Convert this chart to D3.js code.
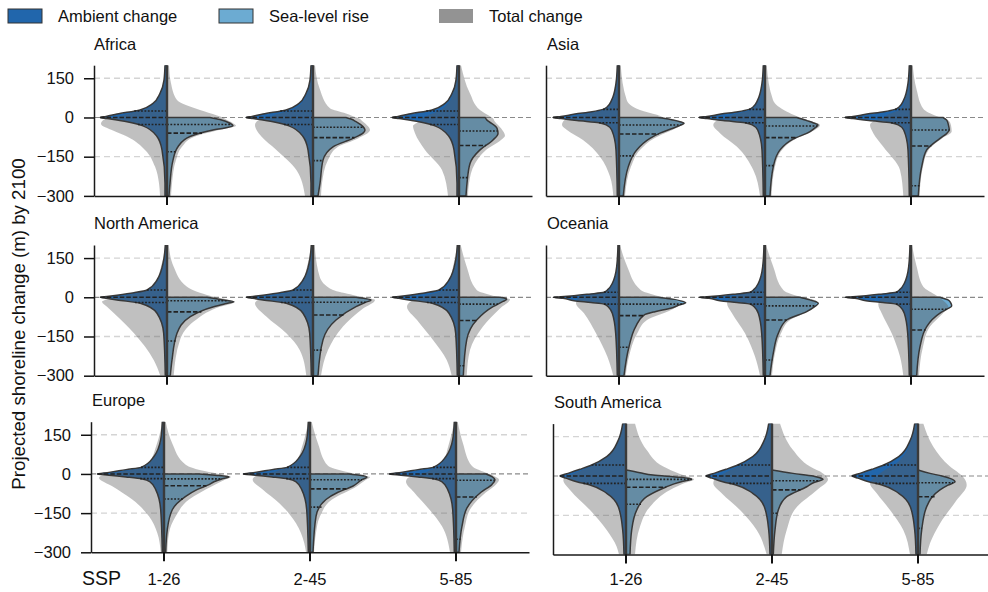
<!DOCTYPE html>
<html><head><meta charset="utf-8">
<script src="https://cdn.jsdelivr.net/npm/d3@7"></script>
<style>body{margin:0;background:#fff;} svg{display:block;font-family:"Liberation Sans",Arial,Helvetica,sans-serif;}</style>
</head><body><svg id="c" width="988" height="592"></svg>
<script>
// ---------------- DATA ----------------
const regions = ["Africa","Asia","North America","Oceania","Europe","South America"];
const ssps = ["1-26","2-45","5-85"];
const yTicks = [150, 0, -150, -300];
const legendLabels = ["Ambient change","Sea-level rise","Total change"];
// profiles: [shoreline change (m), relative half-width of density]
// Ambient change (left half), same for the three SSPs within a region
const africaAmbient = [[200,2],[143,3],[92,7],[54,14],[29,27],[13,50],[4,61],[0,67],[-4,60],[-16,40],[-32,24],[-73,10],[-124,5],[-252,2],[-300,2]];
const asiaAmbient = [[200,1.7],[131,3],[67,7.3],[40,12],[31,16],[22,27],[13,44],[4,58],[0,66],[-4,58],[-12,42],[-20,20],[-30,12],[-48,7.3],[-124,3],[-300,1.7]];
const northAmericaAmbient = [[200,1.7],[143,3.3],[66,10],[28,20],[17.6,33],[8,50],[3,60],[0,66.7],[-4,60],[-10,50],[-23,26.7],[-61,10],[-138,3.3],[-300,1.7]];
const oceaniaAmbient = [[200,1],[117,2.3],[53,6.7],[30,11],[19,15],[12,30],[6,45],[2,58],[0,65.7],[-4,56],[-13,45],[-20,28],[-26,15],[-40,10],[-61,6.7],[-138,3.3],[-300,1.7]];
const europeAmbient = [[200,1.7],[131,3.3],[67,10],[25,23],[16.5,38],[6,55],[0,66.7],[-5,55],[-11.5,38],[-19,21.7],[-30,14],[-60,8.3],[-137,3.3],[-300,1.7]];
const southAmericaAmbient = [[200,3.3],[137,7.7],[74,19.3],[42,34.3],[25.6,46],[10,58],[0,66],[-8,60],[-22,49.3],[-34,36],[-66,19.3],[-117,7.7],[-206,3.3],[-300,2]];
// ambient quartiles [Q3, median, Q1]
const africaAmbientQ = [25,0,-27];
const asiaAmbientQ = [31,0,-20];
const northAmericaAmbientQ = [28,0,-20];
const oceaniaAmbientQ = [19,0,-26];
const europeAmbientQ = [25,0,-18];
const southAmericaAmbientQ = [42,0,-28];

// Sea-level rise (right half), one per SSP
const africaSLR = [
 [[0,43],[-8,53],[-22,63],[-32,66],[-40,58],[-48,46],[-73,23],[-112,11],[-163,6],[-252,3],[-300,2]],
 [[0,33],[-6,38],[-16,43],[-35,50],[-48,52],[-60,50],[-80,40],[-112,20],[-163,10],[-252,7],[-300,5]],
 [[0,26],[-10,28],[-16,30],[-41,38],[-61,39],[-86,34],[-124,21],[-176,11],[-252,8],[-300,7]]];
const asiaSLR = [
 [[0,38],[-4,46],[-9.6,54],[-16,61],[-22,65],[-30,61],[-41,54],[-60,41],[-80,31],[-124,17.7],[-188,9.3],[-300,4.3]],
 [[0,31.7],[-6,37],[-12,41.7],[-20,48],[-29,53],[-40,50],[-54,45],[-83,28],[-124,15],[-188,8.3],[-300,5]],
 [[0,32],[-10,35.7],[-30,37.5],[-48,38.3],[-60,36],[-80,29],[-124,15.7],[-188,10.7],[-300,7.3]]];
const northAmericaSLR = [
 [[0,40],[-5,48],[-10,56.7],[-17,66.7],[-25,58],[-36,46.7],[-74,23.3],[-138,10],[-240,5],[-300,3.3]],
 [[0,43],[-5,52],[-10,58],[-20,52],[-36,43],[-87,23],[-163,10],[-300,5]],
 [[0,41],[-4,46],[-8,47.7],[-16,44],[-36,34],[-87,17.7],[-163,7.7],[-300,4.3]]];
const oceaniaSLR = [
 [[0,38],[-4,47],[-8,55],[-14,62],[-21,66.7],[-30,60],[-42,51.7],[-55,36],[-68,25],[-112,16.7],[-189,10],[-300,5]],
 [[0,35],[-5,40],[-10,45],[-17,51],[-23,53.3],[-35,50],[-55,41.7],[-87,21.7],[-138,13.3],[-214,8.3],[-300,5]],
 [[0,29],[-5,33],[-10,37],[-20,39.5],[-33,40.7],[-45,36],[-61,29],[-112,15.7],[-189,9],[-300,5.7]]];
const europeSLR = [
 [[0,35],[-3,45],[-6.4,55],[-11.5,65],[-20,57],[-30,50],[-41,45],[-60,33],[-86,21.7],[-137,8.3],[-213,3.3],[-300,1.7]],
 [[0,39],[-5,50],[-12,57],[-22,52],[-47,42.7],[-70,28],[-98,16],[-162,6],[-300,3]],
 [[0,30],[-10,36],[-22,39],[-40,36],[-70,25],[-130,11],[-200,6],[-300,3]]];
const southAmericaSLR = [
 [[23,0],[12.6,14],[3.8,27],[-5,54],[-12.7,65.7],[-20,57],[-30,48],[-41,40.7],[-79,20.7],[-130,10.7],[-206,5.7],[-300,4]],
 [[23,0],[10,21],[0,41],[-6,47],[-12.7,51],[-25,42],[-41,34.7],[-79,14.7],[-130,6.3],[-206,3],[-300,1.3]],
 [[23,0],[10,12],[0,24],[-9,32],[-22,37],[-35,30],[-53,22],[-117,8.7],[-206,3.7],[-300,2]]];
// SLR quartiles [Q3, median, Q1]
const africaSLRQ = [[-27,-60,-131],[-37.6,-77,-165],[-52,-107,-230]];
const asiaSLRQ = [[-29,-63,-147],[-32.5,-77,-184],[-48,-109,-261]];
const northAmericaSLRQ = [[-13,-56,-167],[-19,-68,-202],[-26,-89,-262]];
const oceaniaSLRQ = [[-26,-70,-191],[-33,-87,-240],[-46,-125,-310]];
const europeSLRQ = [[-19,-45,-96],[-22,-57,-127],[-24,-88,-250]];
const southAmericaSLRQ = [[-12.7,-43,-108],[-18,-53,-142],[-25.6,-79,-200]];

// Total change, left and right halves
const africaTotalL = [
 [[200,2],[131,3.5],[67,10],[29,23],[13,40],[4,48],[0,55],[-11,64],[-25,66],[-50,54],[-73,40],[-124,22],[-188,12],[-252,8],[-300,7]],
 [[200,2],[131,3.5],[67,9],[29,21],[13,36],[4,42],[0,45],[-12,55],[-29,58],[-73,51.6],[-124,36.6],[-201,16.6],[-300,8]],
 [[200,2],[92,6],[29,18],[13,28],[4,33],[0,35],[-15,40],[-33,46],[-60,44],[-124,34],[-201,17],[-300,11]]];
const africaTotalR = [
 [[200,2],[131,4],[67,10],[29,33],[8,50],[0,56],[-10,60],[-22,66],[-32,69],[-48,52],[-73,28],[-112,15],[-163,9],[-252,5],[-300,4]],
 [[200,2],[110,6.7],[35,17],[15,33],[5,40],[0,44],[-16,50],[-48,57],[-80,45],[-112,25],[-163,15],[-252,9],[-300,8]],
 [[200,2],[92,11],[29,21],[5,31],[0,33],[-16,36],[-41,42],[-70,46],[-86,42],[-124,27],[-176,16],[-252,10],[-300,9]]];
const asiaTotalL = [
 [[200,1.7],[67,7],[31,14],[22,22],[13,34],[4,44],[0,48],[-12,55],[-29,57],[-48,52],[-86,36],[-150,19],[-226,9],[-300,5.7]],
 [[200,1.7],[67,7],[31,13],[22,20],[13,30],[4,36],[0,38],[-12,48],[-29,51.7],[-60,45],[-112,28],[-201,11.7],[-300,5]],
 [[200,1.7],[67,6],[31,11],[22,16],[13,22],[4,26],[0,28],[-12,36],[-29,41],[-60,37.7],[-112,27.7],[-201,11],[-300,7.7]]];
const asiaTotalR = [
 [[200,1.7],[67,7.7],[29,21],[10,38],[0,45],[-10,56],[-22,66],[-41,57],[-80,35],[-124,21],[-188,12],[-300,6]],
 [[200,1.7],[67,8],[22,22],[5,32],[0,36],[-12,44],[-29,55],[-54,47],[-83,30],[-124,17],[-188,10],[-300,6.5]],
 [[200,1.7],[105,5.7],[33,12.3],[5,26],[0,30],[-10,37],[-30,40],[-54,40.7],[-80,31],[-124,17.5],[-188,12],[-300,8.5]]];
const northAmericaTotalL = [
 [[200,1.7],[117,6],[40,14],[28,18],[17.6,28],[8,40],[0,52],[-10,62],[-17,65],[-36,60],[-61,53],[-138,33],[-240,13.3],[-300,6.7]],
 [[200,1.7],[117,6],[40,13],[28,17],[17.6,26],[8,38],[0,48],[-10,55],[-23,58],[-74,46.7],[-138,26.7],[-202,13.3],[-300,6.7]],
 [[200,1.7],[117,6],[40,12],[28,15],[17.6,22],[8,32],[0,38],[-15,48],[-36,52],[-87,42],[-163,26],[-240,12.3],[-300,7.3]]];
const northAmericaTotalR = [
 [[200,1.7],[117,6.7],[40,20],[9,40],[0,50],[-10,62],[-17,68],[-40,50],[-92,27],[-163,13],[-300,6.7]],
 [[200,1.7],[79,6.7],[28,20],[9,40],[0,50],[-10,62],[-43,50],[-112,30],[-202,15],[-300,8]],
 [[200,1.7],[117,7.7],[28,17.7],[6,34],[0,40],[-8,51],[-43,41],[-112,24],[-202,11],[-300,7.7]]];
const oceaniaTotalL = [
 [[200,1],[117,2.3],[53,6.5],[30,10],[19,14],[12,24],[6,34],[0,40],[-10,42],[-23,43],[-61,35],[-138,23],[-227,11.7],[-300,5.7]],
 [[200,1],[117,2.3],[53,6.3],[30,10],[19,13],[12,22],[6,30],[0,34],[-10,37],[-23,38],[-61,33],[-138,20],[-227,10],[-300,5]],
 [[200,1],[117,2.3],[53,6],[30,9.5],[19,12],[12,18],[6,25],[0,28],[-15,32],[-29,32.7],[-61,29.3],[-138,19.3],[-227,11],[-300,7.7]]];
const oceaniaTotalR = [
 [[200,1],[117,8.3],[28,21.7],[6,38],[0,44],[-10,54],[-23,61.7],[-49,52],[-87,28],[-138,18.3],[-227,10],[-300,6.7]],
 [[200,1],[117,8.3],[28,18.3],[6,31.7],[0,38],[-15,51.7],[-30,50],[-55,42],[-87,25],[-138,16],[-214,10],[-300,7]],
 [[200,1],[117,5.7],[40,12.3],[6,25.7],[0,28],[-15,33],[-36,37.3],[-61,32],[-112,19],[-189,12],[-300,8]]];
const europeTotalL = [
 [[200,1.7],[117,7],[35,17],[25,21],[16.5,32],[6,46],[0,55],[-6,62],[-15.5,65],[-47,51.7],[-98,31.7],[-162,15],[-226,6.7],[-300,3.3]],
 [[200,1.7],[117,7],[35,16],[25,20],[16.5,29],[6,38],[0,48],[-10,55],[-22,57.3],[-60,47.3],[-112,30.7],[-189,14],[-265,5.7],[-300,4]],
 [[200,1.7],[117,7],[35,15],[25,18],[16.5,25],[6,30],[0,36],[-15,48],[-30,50],[-70,42],[-130,28],[-200,14],[-300,6]]];
const europeTotalR = [
 [[200,1.7],[117,8.3],[35.6,21.7],[10,41.7],[0,55],[-6,62],[-11.5,67],[-20,62],[-47,48],[-98,25],[-162,11.7],[-226,5],[-300,3.3]],
 [[200,1.7],[117,8],[31,18],[8,36],[0,45],[-6,52],[-12,60],[-25,55],[-47,47],[-98,22],[-162,10],[-226,6],[-300,4]],
 [[200,1.7],[117,7],[30,16],[5,30],[0,34],[-10,39],[-22,43],[-40,40],[-70,30],[-130,15],[-200,9],[-300,5]]];
const southAmericaTotalL = [
 [[200,3],[137,7.5],[74,18.5],[42,32],[25.6,42],[10,52],[0,58],[-15,62.7],[-53,56],[-130,36],[-206,19.3],[-270,9.3],[-300,7]],
 [[200,3],[137,7.3],[74,17],[42,30],[25.6,40],[10,48],[0,54],[-15,58],[-28,58.7],[-66,50.3],[-130,32],[-206,15.3],[-300,5.3]],
 [[200,3],[137,7],[74,15],[42,24],[25.6,32],[10,38],[0,42],[-15,46],[-28,48],[-66,41.3],[-130,28],[-206,14.7],[-300,8]]];
const southAmericaTotalR = [
 [[200,9],[99,20.7],[36,37.3],[8,54],[0,60],[-13,68],[-25,60],[-53,44],[-117,24],[-193,14],[-300,9]],
 [[200,8],[99,21],[36,38],[10,51],[0,54],[-13,56],[-53,45],[-117,25],[-206,14.7],[-300,9.7]],
 [[200,5.3],[112,15.3],[36,32],[-3,45],[-34,48.7],[-92,38.7],[-181,22],[-257,12],[-300,8.7]]];

// table built from the arrays above
const table = {
 "Africa": {amb: africaAmbient, ambQ: africaAmbientQ, slr: africaSLR, slrQ: africaSLRQ, totL: africaTotalL, totR: africaTotalR},
 "Asia": {amb: asiaAmbient, ambQ: asiaAmbientQ, slr: asiaSLR, slrQ: asiaSLRQ, totL: asiaTotalL, totR: asiaTotalR},
 "North America": {amb: northAmericaAmbient, ambQ: northAmericaAmbientQ, slr: northAmericaSLR, slrQ: northAmericaSLRQ, totL: northAmericaTotalL, totR: northAmericaTotalR},
 "Oceania": {amb: oceaniaAmbient, ambQ: oceaniaAmbientQ, slr: oceaniaSLR, slrQ: oceaniaSLRQ, totL: oceaniaTotalL, totR: oceaniaTotalR},
 "Europe": {amb: europeAmbient, ambQ: europeAmbientQ, slr: europeSLR, slrQ: europeSLRQ, totL: europeTotalL, totR: europeTotalR},
 "South America": {amb: southAmericaAmbient, ambQ: southAmericaAmbientQ, slr: southAmericaSLR, slrQ: southAmericaSLRQ, totL: southAmericaTotalL, totR: southAmericaTotalR}
};

// ---------------- LAYOUT / STYLE ----------------
const AMB = "#2166ac", SLRC = "#6cabd2", GRAY = "rgba(90,90,90,0.38)", EDGE = "#383838";
const panels = [
 {x0:94, x1:532, yT:65.2, yB:195.9, yLab:true, xLab:false, tx:94, ty:49.5},
 {x0:546, x1:984, yT:65.2, yB:195.9, yLab:false, xLab:false, tx:547, ty:49.5},
 {x0:94, x1:532, yT:245, yB:375.7, yLab:true, xLab:false, tx:94, ty:229},
 {x0:546, x1:984, yT:245, yB:375.7, yLab:false, xLab:false, tx:547, ty:229},
 {x0:91, x1:529, yT:421.7, yB:552.3, yLab:true, xLab:true, tx:92, ty:406},
 {x0:553, x1:991, yT:423.6, yB:554.6, yLab:false, xLab:true, tx:554, ty:408}
];
const FS = 16.5;
const svg = d3.select("#c");
const defs = svg.append("defs");

panels.forEach((p, pi) => {
  const D = table[regions[pi]];
  const x = d3.scaleBand().domain(ssps).range([p.x0, p.x1]);
  const y = d3.scaleLinear().domain([-300, 200]).range([p.yB, p.yT]);
  const w = d3.scaleLinear().domain([0, 73]).range([0, x.bandwidth() / 2]);
  const g = svg.append("g");
  defs.append("clipPath").attr("id", "cp" + pi).append("rect")
    .attr("x", p.x0).attr("y", p.yT).attr("width", p.x1 - p.x0).attr("height", p.yB - p.yT);

  // gridlines
  [150, -150].forEach(v => g.append("line").attr("x1", p.x0).attr("x2", p.x1)
    .attr("y1", y(v)).attr("y2", y(v)).attr("stroke", "#d4d4d4").attr("stroke-width", 1.3)
    .attr("stroke-dasharray", "6,4"));
  g.append("line").attr("x1", p.x0).attr("x2", p.x1).attr("y1", y(0)).attr("y2", y(0))
    .attr("stroke", "#8a8a8a").attr("stroke-width", 1.2).attr("stroke-dasharray", "5,3");

  const vg = g.append("g").attr("clip-path", `url(#cp${pi})`);
  ssps.forEach((s, i) => {
    const cx = x(s) + x.bandwidth() / 2;
    const aL = d3.area().curve(d3.curveMonotoneY).y(d => y(d[0])).x0(cx).x1(d => cx - w(d[1]));
    const aR = d3.area().curve(d3.curveMonotoneY).y(d => y(d[0])).x0(cx).x1(d => cx + w(d[1]));
    const slr = D.slr[i];
    vg.append("path").attr("d", aL(D.amb)).attr("fill", AMB);
    vg.append("path").attr("d", aR(slr)).attr("fill", SLRC);
    vg.append("path").attr("d", aL(D.totL[i])).attr("fill", GRAY);
    vg.append("path").attr("d", aR(D.totR[i])).attr("fill", GRAY);
    vg.append("path").attr("d", aL(D.amb)).attr("fill", "none").attr("stroke", EDGE).attr("stroke-width", 1.5);
    vg.append("path").attr("d", aR(slr)).attr("fill", "none").attr("stroke", EDGE).attr("stroke-width", 1.5);
    // quartile lines
    const wa = d3.scaleLinear().domain(D.amb.map(d => d[0])).range(D.amb.map(d => d[1]));
    const ws = d3.scaleLinear().domain(slr.map(d => d[0])).range(slr.map(d => d[1]));
    D.ambQ.forEach((q, k) => vg.append("line").attr("x1", cx - w(wa(q))).attr("x2", cx)
      .attr("y1", y(q)).attr("y2", y(q)).attr("stroke", "#222").attr("stroke-width", 1.6)
      .attr("stroke-dasharray", k === 1 ? "4.5,2" : "1.8,1.6"));
    D.slrQ[i].forEach((q, k) => vg.append("line").attr("x1", cx).attr("x2", cx + w(ws(q)))
      .attr("y1", y(q)).attr("y2", y(q)).attr("stroke", "#222").attr("stroke-width", 1.6)
      .attr("stroke-dasharray", k === 1 ? "4.5,2" : "1.8,1.6"));
    vg.append("line").attr("x1", cx).attr("x2", cx).attr("y1", p.yT).attr("y2", p.yB)
      .attr("stroke", "#3a3a3a").attr("stroke-width", 2.4);
  });

  // axes
  const xa = g.append("g").attr("transform", `translate(0,${p.yB})`)
    .call(d3.axisBottom(x).tickSize(9).tickSizeOuter(0));
  xa.select(".domain").attr("stroke", "#1a1a1a").attr("stroke-width", 1.5);
  xa.selectAll(".tick line").attr("stroke", "#111").attr("stroke-width", 2);
  xa.selectAll(".tick text").attr("font-size", FS).attr("fill", "#111")
    .attr("font-family", '"Liberation Sans",Arial,sans-serif')
    .attr("y", 585 - p.yB).attr("dy", 0).style("display", p.xLab ? null : "none");
  const ya = g.append("g").attr("transform", `translate(${p.x0},0)`)
    .call(d3.axisLeft(y).tickValues(yTicks).tickSize(p.yLab ? 10 : 0).tickPadding(10).tickSizeOuter(0));
  ya.select(".domain").attr("stroke", "#1a1a1a").attr("stroke-width", 1.5);
  ya.selectAll(".tick line").attr("stroke", "#111").attr("stroke-width", 1.5);
  ya.selectAll(".tick text").attr("font-size", FS).attr("fill", "#111")
    .attr("font-family", '"Liberation Sans",Arial,sans-serif')
    .style("display", p.yLab ? null : "none");
  g.append("text").attr("x", p.tx).attr("y", p.ty).attr("font-size", FS).attr("fill", "#111").text(regions[pi]);
});

// y label
svg.append("text").attr("transform", "translate(25,324) rotate(-90)").attr("text-anchor", "middle")
  .attr("font-size", 18.7).attr("fill", "#111").text("Projected shoreline change (m) by 2100");
svg.append("text").attr("x", 82).attr("y", 585).attr("font-size", 19.5).attr("fill", "#111").text("SSP");

// legend
const legendFills = [AMB, SLRC, "#939393"];
const legendX = [8, 219, 439];
legendLabels.forEach((t, i) => {
  svg.append("rect").attr("x", legendX[i]).attr("y", 9).attr("width", 34).attr("height", 14)
    .attr("fill", legendFills[i]).attr("stroke", i < 2 ? "#333" : "none").attr("stroke-width", 1);
  svg.append("text").attr("x", legendX[i] + 50).attr("y", 22).attr("font-size", 16.5).attr("fill", "#111").text(t);
});
</script></body></html>
